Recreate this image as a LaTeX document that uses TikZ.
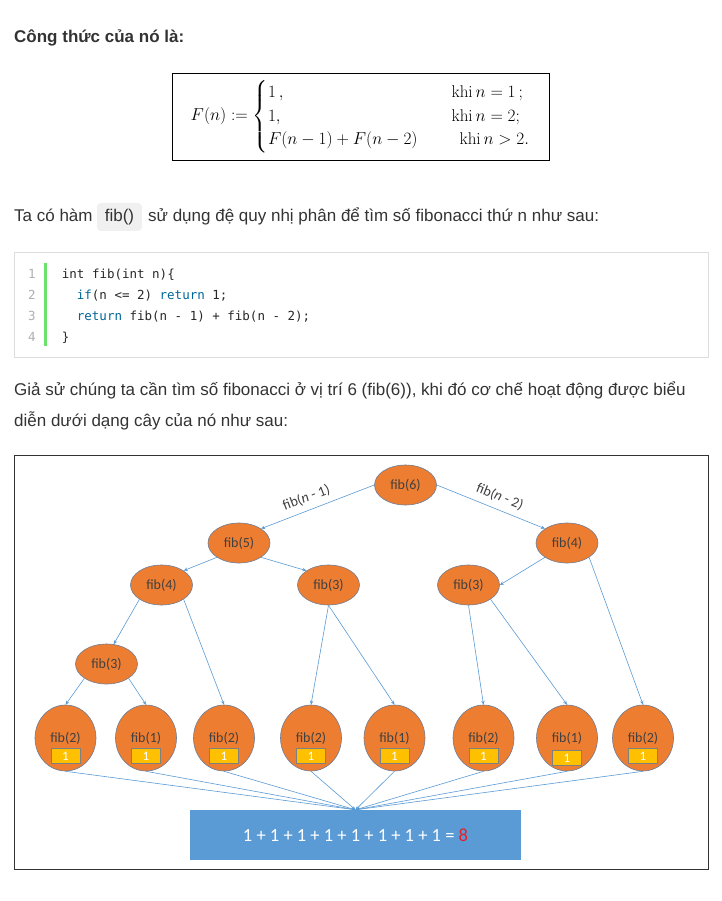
\documentclass[tikz,border=0pt]{standalone}
\usepackage{fontspec}
\usepackage{amsmath}
\usetikzlibrary{shapes.geometric,arrows.meta}
\newfontfamily\arialfont{Liberation Sans}
\newfontfamily\calfont{Carlito}
\newfontfamily\codefont{DejaVu Sans Mono}
\definecolor{bodygray}{RGB}{51,51,51}
\definecolor{codedark}{RGB}{40,40,40}
\definecolor{linegray}{RGB}{175,175,175}
\definecolor{kwblue}{RGB}{0,102,153}
\definecolor{codegreen}{RGB}{108,226,108}
\definecolor{codeborder}{RGB}{221,221,221}
\definecolor{inlinegray}{RGB}{240,240,240}
\definecolor{framegray}{RGB}{51,51,51}
\definecolor{callorange}{RGB}{237,125,49}
\definecolor{ellborder}{RGB}{110,125,150}
\definecolor{calltext}{RGB}{64,64,64}
\definecolor{oneyellow}{RGB}{255,192,0}
\definecolor{onegray}{RGB}{127,127,127}
\definecolor{edgeblue}{RGB}{91,155,213}
\definecolor{sumblue}{RGB}{91,155,213}
\definecolor{eightred}{RGB}{230,30,40}
\begin{document}
\begin{tikzpicture}[x=1pt,y=-1pt,
	txt/.style={inner sep=0pt,anchor=base west,text=bodygray,
		font=\arialfont\fontsize{17}{20}\selectfont},
	codeline/.style={inner sep=0pt,anchor=base west,text=codedark,
		font=\codefont\fontsize{12.5}{15}\selectfont},
	lineno/.style={codeline,anchor=base,text=linegray},
	call/.style={ellipse,draw=ellborder,fill=callorange,line width=0.6pt,
		minimum width=62pt,minimum height=40pt,inner sep=0pt,text=calltext,
		font=\calfont\fontsize{14}{16}\selectfont},
	leaf/.style={call,minimum width=61pt,minimum height=66pt},
	onebox/.style={draw=onegray,fill=oneyellow,line width=0.6pt,
		minimum width=29pt,minimum height=15pt,inner sep=0pt,text=white,
		font=\calfont\fontsize{13}{15}\selectfont},
	edge/.style={draw=edgeblue,line width=0.6pt,-{Stealth[length=4pt,width=3.5pt]}},
	lbl/.style={sloped,above=6pt,pos=0.56,inner sep=0pt,text=calltext,
		font=\calfont\fontsize{14.3}{17}\selectfont}]
		\path[use as bounding box,fill=white] (0,0) rectangle (721,901);
		
		\node[txt,font=\arialfont\bfseries\fontsize{17}{20}\selectfont] (head) at (14,43)
			{Công thức của nó là:};
		
		\node[draw=black,line width=0.8pt,minimum width=377pt,minimum height=87pt,
			inner sep=0pt] (formula) at (360.5,116.5)
			{\fontsize{17}{21}\selectfont\renewcommand{\arraystretch}{1.12}%
			\raisebox{-2pt}{$F(n) := \left\{\begin{array}{@{}l@{\hspace{34pt}}l@{}}
				1\,, & \mathrm{khi}\,n=1\,;\\
				1, & \mathrm{khi}\,n=2;\\
				F(n-1)+F(n-2) & \hspace{8pt}\mathrm{khi}\,n>2.
			\end{array}\right.$}};
		
		\node[txt] (ta) at (14,222) {Ta có hàm};
		\node[fill=inlinegray,rounded corners=4pt,minimum width=45pt,minimum height=28pt,
			inner sep=0pt,text=bodygray,font=\arialfont\fontsize{17}{20}\selectfont]
			(fibcall) at (119.5,217) {fib()};
		\node[txt] (rest) at (148,222)
			{sử dụng đệ quy nhị phân để tìm số fibonacci thứ n như sau:};
		
		\node[draw=codeborder,line width=1pt,minimum width=694pt,minimum height=105pt]
			(code) at (361,304.5) {};
		\fill[codegreen] (44,263) rectangle (47,346);
		\node[lineno] (n1) at (32,278) {1};
		\node[lineno] (n2) at (32,299) {2};
		\node[lineno] (n3) at (32,320) {3};
		\node[lineno] (n4) at (32,341) {4};
		\node[codeline] (c1) at (61.7,278) {int fib(int n)\{};
		\node[codeline] (c2) at (76.7,299)
			{\textcolor{kwblue}{if}(n <= 2) \textcolor{kwblue}{return} 1;};
		\node[codeline] (c3) at (76.7,320)
			{\textcolor{kwblue}{return} fib(n - 1) + fib(n - 2);};
		\node[codeline] (c4) at (61.7,341) {\}};
		
		\node[txt] (para1) at (14,395)
			{Giả sử chúng ta cần tìm số fibonacci ở vị trí 6 (fib(6)), khi đó cơ chế hoạt động được biểu};
		\node[txt] (para2) at (14,426) {diễn dưới dạng cây của nó như sau:};
		
		\draw[framegray,line width=1pt] (14,455) rectangle (708,869);
		
		\node[call] (f6) at (405.5,485) {fib(6)};
		\node[call] (f5) at (239,543) {fib(5)};
		\node[call] (f4r) at (567,543) {fib(4)};
		\node[call] (f4l) at (161.5,585) {fib(4)};
		\node[call] (f3m) at (328.5,585) {fib(3)};
		\node[call] (f3r) at (468.5,585) {fib(3)};
		\node[call] (f3ll) at (106.5,664) {fib(3)};
		
		\node[leaf] (l1) at (65.5,738) {fib(2)};
		\node[leaf] (l2) at (146,738) {fib(1)};
		\node[leaf] (l3) at (224,738) {fib(2)};
		\node[leaf] (l4) at (311,738) {fib(2)};
		\node[leaf] (l5) at (394.5,738) {fib(1)};
		\node[leaf] (l6) at (483.5,738) {fib(2)};
		\node[leaf] (l7) at (567,738) {fib(1)};
		\node[leaf] (l8) at (643,738) {fib(2)};
		\node[onebox] (o1) at (65.5,756) {1};
		\node[onebox] (o2) at (146,756) {1};
		\node[onebox] (o3) at (224,756) {1};
		\node[onebox] (o4) at (311,756) {1};
		\node[onebox] (o5) at (394.5,756) {1};
		\node[onebox] (o6) at (483.5,756) {1};
		\node[onebox] (o7) at (567,758) {1};
		\node[onebox] (o8) at (643,756) {1};
		
		\node[fill=sumblue,minimum width=331pt,minimum height=50pt,inner sep=0pt,
			text=white,font=\calfont\fontsize{18.5}{22}\selectfont] (sum) at (355.5,835)
			{1 + 1 + 1 + 1 + 1 + 1 + 1 + 1 = \textcolor{eightred}{8}};
		
		\draw[edge] (f6.west) -- node[lbl] {fib({\itshape n} - 1)} (f5.north east);
		\draw[edge] (f6.east) -- node[lbl,pos=0.54] {fib({\itshape n} - 2)} (f4r.north west);
		\draw[edge] (f5.south west) -- (f4l.north east);
		\draw[edge] (f5.south east) -- (f3m.north west);
		\draw[edge] (f4r.south west) -- (f3r.east);
		\draw[edge] (f4r.south east) -- (l8.north);
		\draw[edge] (f4l.south west) -- (f3ll.70);
		\draw[edge] (f4l.south east) -- (l3.north);
		\draw[edge] (f3ll.south west) -- (l1.north);
		\draw[edge] (f3ll.south east) -- (l2.north);
		\draw[edge] (f3m.south) -- (l4.north);
		\draw[edge] (f3m.south) -- (l5.north);
		\draw[edge] (f3r.south) -- (l6.north);
		\draw[edge] (f3r.south east) -- (l7.north);
		
		\draw[edge] (l1.south) -- (sum.north);
		\draw[edge] (l2.south) -- (sum.north);
		\draw[edge] (l3.south) -- (sum.north);
		\draw[edge] (l4.south) -- (sum.north);
		\draw[edge] (l5.south) -- (sum.north);
		\draw[edge] (l6.south) -- (sum.north);
		\draw[edge] (l7.south) -- (sum.north);
		\draw[edge] (l8.south) -- (sum.north);
	\end{tikzpicture}
\end{document}
